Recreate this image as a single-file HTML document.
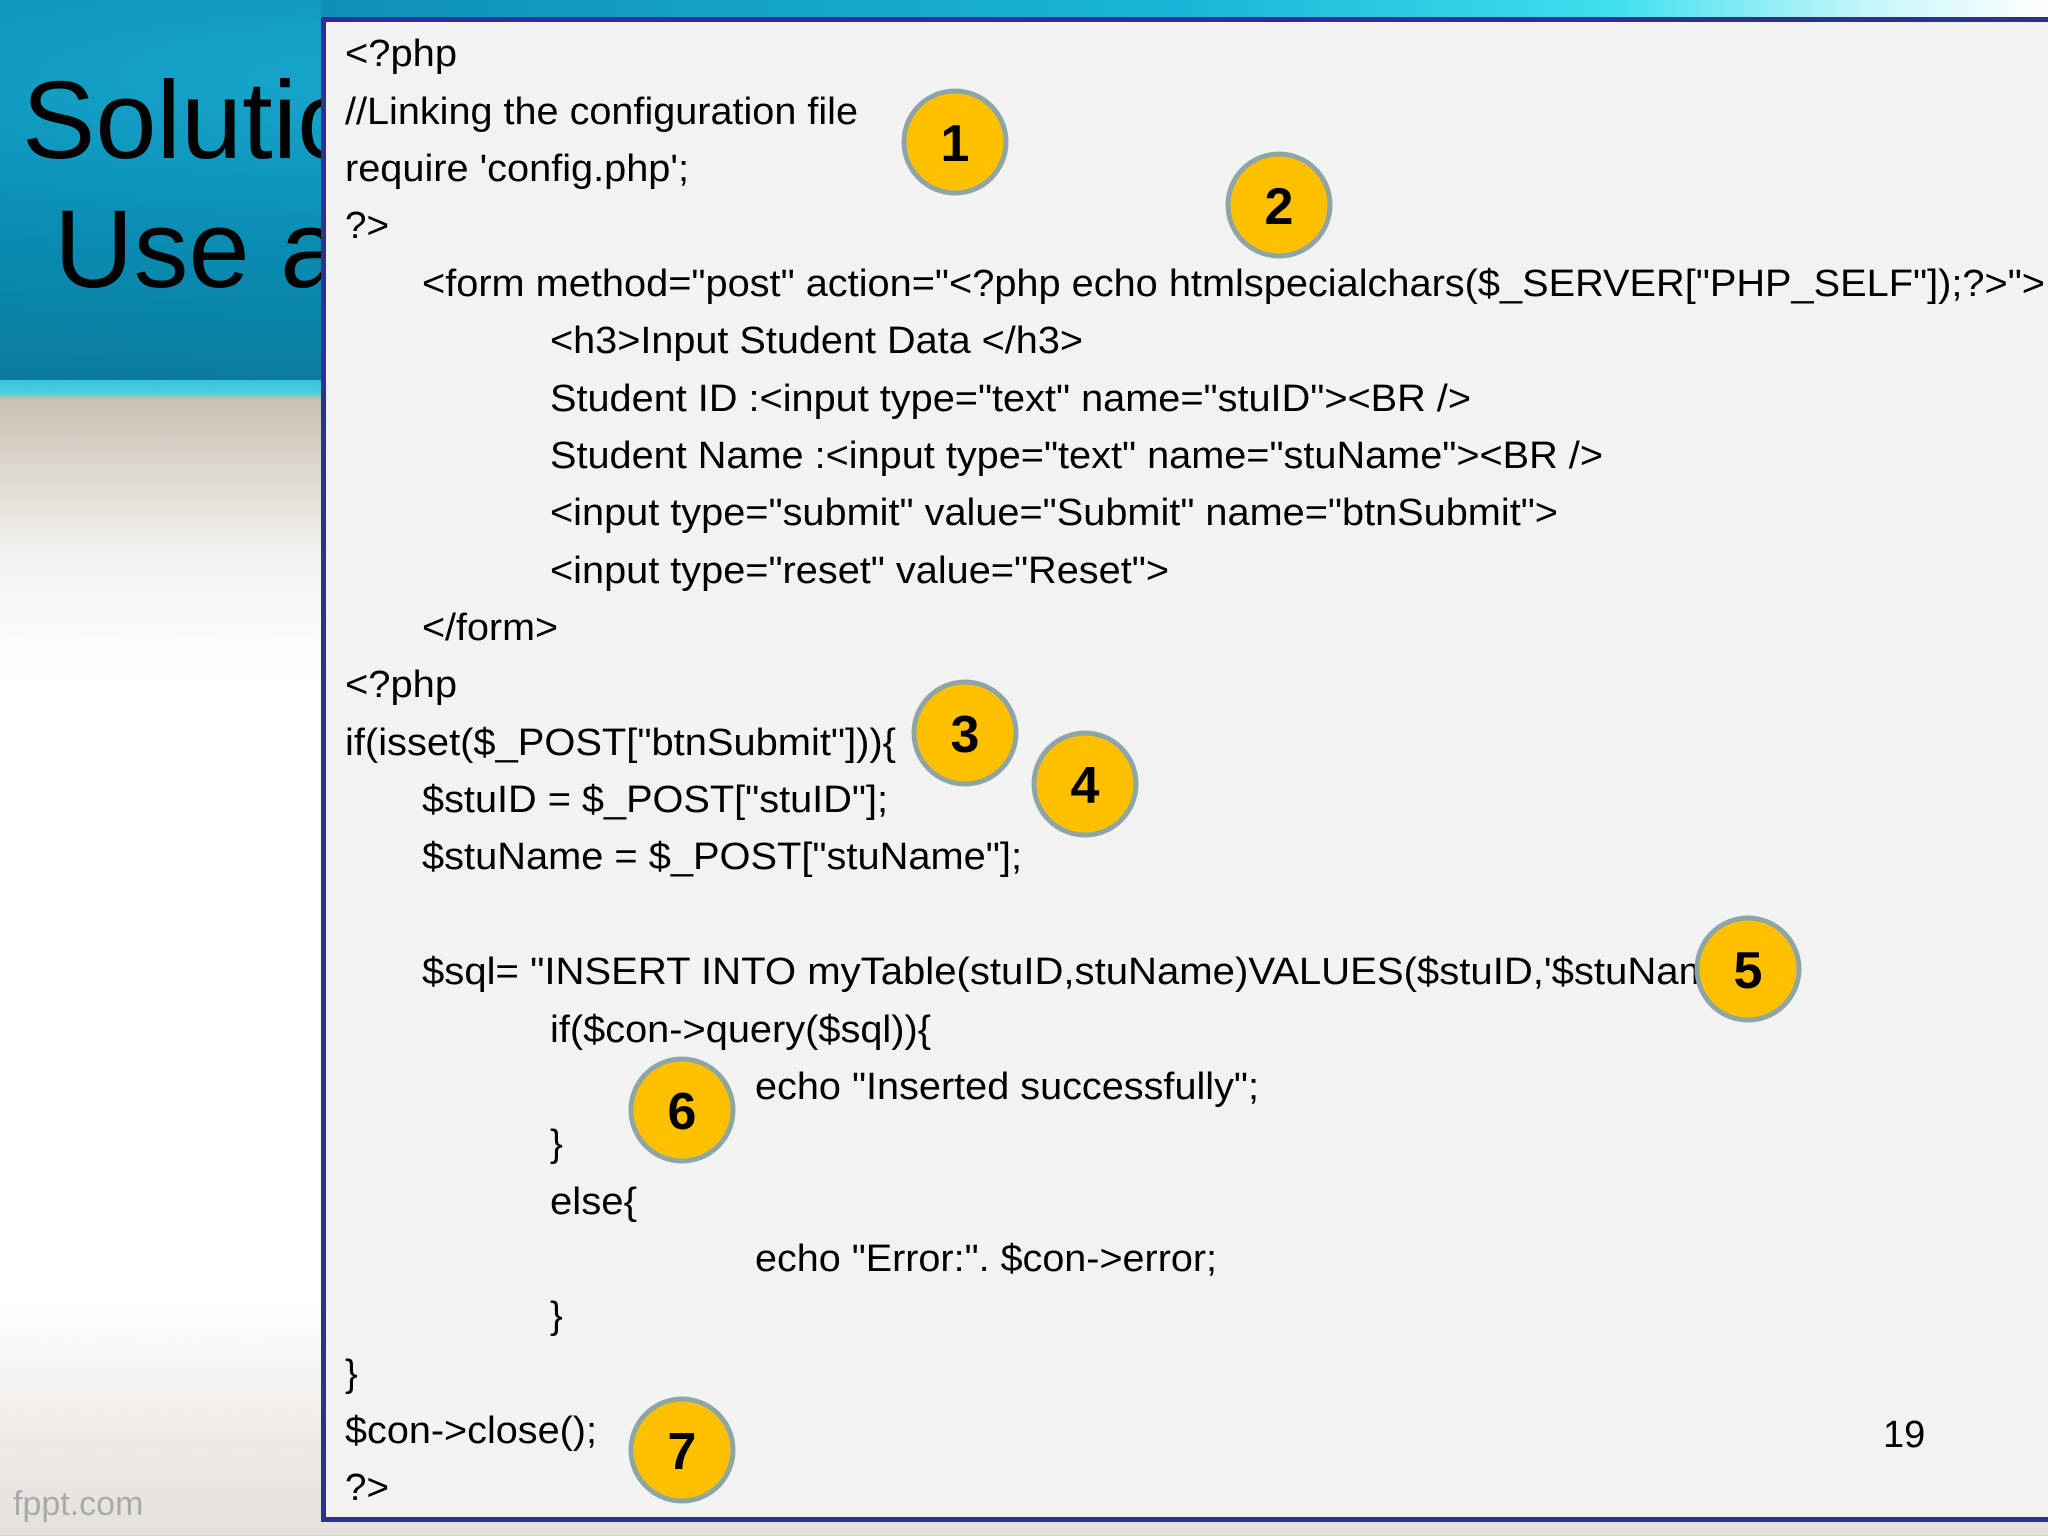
<!DOCTYPE html>
<html><head><meta charset="utf-8"><style>
html,body{margin:0;padding:0;}
body{width:2048px;height:1536px;position:relative;overflow:hidden;font-family:"Liberation Sans",Arial,sans-serif;
background:linear-gradient(to bottom,#0a6f90 0px,#0b86ad 200px,#0a6a86 370px,#3cc6dc 380px,#44cde0 392px,#c9c0b0 400px,#ddd8d0 470px,#f4f3f1 560px,#ffffff 680px,#ffffff 1300px,#eeeae6 1440px,#e4e0dc 1536px);}
.top{position:absolute;left:0;top:0;width:2048px;height:380px;background:radial-gradient(ellipse at 20% 20%,#17a8cc 0%,#0a8cb3 40%,#0a6e8c 100%);}
.strip{position:absolute;left:321px;top:0;width:1727px;height:30px;background:linear-gradient(to right,#0f8fb6 0%,#18b7d8 50%,#3fe0ef 75%,#c9f7fb 90%,#ffffff 100%);}
.title{position:absolute;font-size:110px;color:#000;line-height:1;}
.box{position:absolute;left:321px;top:17px;width:1740px;height:1495px;background:#f2f2f2;border:5px solid #2e3192;}
svg{position:absolute;left:0;top:0;}
</style></head><body>
<div class="top"></div>
<div class="strip"></div>
<div class="title" style="left:22px;top:66px;">Solution</div>
<div class="title" style="left:54px;top:195px;">Use a</div>
<div style="position:absolute;left:13px;top:1485px;font-size:34px;color:#a9a9a9;">fppt.com</div>
<div class="box"></div>
<svg width="2048" height="1536" viewBox="0 0 2048 1536" font-family="Liberation Sans, Arial, sans-serif" font-size="38" fill="#000">
<text x="345" y="66" textLength="112" lengthAdjust="spacingAndGlyphs">&lt;?php</text>
<text x="345" y="124" textLength="513" lengthAdjust="spacingAndGlyphs">//Linking the configuration file</text>
<text x="345" y="181" textLength="344" lengthAdjust="spacingAndGlyphs">require 'config.php';</text>
<text x="345" y="238" textLength="44" lengthAdjust="spacingAndGlyphs">?&gt;</text>
<text x="422" y="296" textLength="1623" lengthAdjust="spacingAndGlyphs">&lt;form method="post" action="&lt;?php echo htmlspecialchars($_SERVER["PHP_SELF"]);?&gt;"&gt;</text>
<text x="550" y="353" textLength="533" lengthAdjust="spacingAndGlyphs">&lt;h3&gt;Input Student Data &lt;/h3&gt;</text>
<text x="550" y="411" textLength="921" lengthAdjust="spacingAndGlyphs">Student ID :&lt;input type="text" name="stuID"&gt;&lt;BR /&gt;</text>
<text x="550" y="468" textLength="1053" lengthAdjust="spacingAndGlyphs">Student Name :&lt;input type="text" name="stuName"&gt;&lt;BR /&gt;</text>
<text x="550" y="525" textLength="1008" lengthAdjust="spacingAndGlyphs">&lt;input type="submit" value="Submit" name="btnSubmit"&gt;</text>
<text x="550" y="583" textLength="619" lengthAdjust="spacingAndGlyphs">&lt;input type="reset" value="Reset"&gt;</text>
<text x="422" y="640" textLength="136" lengthAdjust="spacingAndGlyphs">&lt;/form&gt;</text>
<text x="345" y="697" textLength="112" lengthAdjust="spacingAndGlyphs">&lt;?php</text>
<text x="345" y="755" textLength="551" lengthAdjust="spacingAndGlyphs">if(isset($_POST["btnSubmit"])){</text>
<text x="422" y="812" textLength="466" lengthAdjust="spacingAndGlyphs">$stuID = $_POST["stuID"];</text>
<text x="422" y="869" textLength="600" lengthAdjust="spacingAndGlyphs">$stuName = $_POST["stuName"];</text>
<text x="422" y="984" textLength="1290" lengthAdjust="spacingAndGlyphs">$sql= "INSERT INTO myTable(stuID,stuName)VALUES($stuID,'$stuNam</text>
<text x="550" y="1042" textLength="381" lengthAdjust="spacingAndGlyphs">if($con-&gt;query($sql)){</text>
<text x="755" y="1099" textLength="504" lengthAdjust="spacingAndGlyphs">echo "Inserted successfully";</text>
<text x="550" y="1156">}</text>
<text x="550" y="1214" textLength="87" lengthAdjust="spacingAndGlyphs">else{</text>
<text x="755" y="1271" textLength="462" lengthAdjust="spacingAndGlyphs">echo "Error:". $con-&gt;error;</text>
<text x="550" y="1328">}</text>
<text x="345" y="1386">}</text>
<text x="345" y="1443" textLength="252" lengthAdjust="spacingAndGlyphs">$con-&gt;close();</text>
<text x="345" y="1500" textLength="44" lengthAdjust="spacingAndGlyphs">?&gt;</text>
<text x="1883" y="1447" font-size="38">19</text>
<g stroke="#8ea5a5" stroke-width="5" fill="#ffc000">
<circle cx="955" cy="142" r="51"/>
<circle cx="1279" cy="205" r="51"/>
<circle cx="965" cy="733" r="51"/>
<circle cx="1085" cy="784" r="51"/>
<circle cx="1748" cy="969" r="51"/>
<circle cx="682" cy="1110" r="51"/>
<circle cx="682" cy="1450" r="51"/>
</g>
<g font-size="52" font-weight="bold" text-anchor="middle">
<text x="955" y="161">1</text>
<text x="1279" y="224">2</text>
<text x="965" y="752">3</text>
<text x="1085" y="803">4</text>
<text x="1748" y="988">5</text>
<text x="682" y="1129">6</text>
<text x="682" y="1469">7</text>
</g>
</svg>
</body></html>
